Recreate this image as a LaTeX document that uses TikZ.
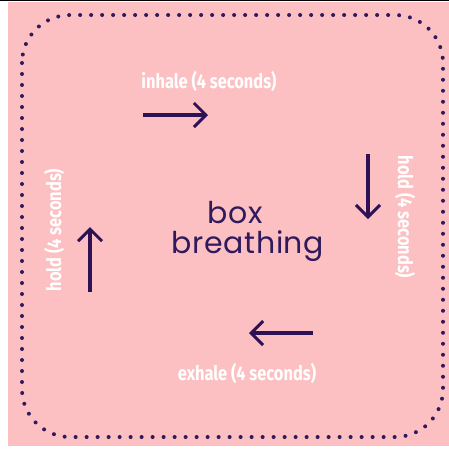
\documentclass[tikz,border=0pt]{standalone}
\usepackage{fontspec}
\setmainfont{Fira Sans}
\newfontfamily\geofont[LetterSpace=2]{Poppins}
\usetikzlibrary{arrows.meta}
\definecolor{bgpink}{HTML}{FDC0C2}
\definecolor{navy}{HTML}{2E1A5C}
\definecolor{arrowc}{HTML}{2C1155}
\tikzset{
  lbl/.style={text=white, font=\bfseries\fontsize{20}{20}\selectfont, inner sep=0pt},
  breath/.style={draw=arrowc, line width=3.2pt, -{Straight Barb[length=12pt,width=24pt,line width=3pt]}},
  ttl/.style={text=navy, font=\geofont\fontsize{30}{30}\selectfont, inner sep=0pt, anchor=base},
}
\begin{document}
\begin{tikzpicture}[x=1pt,y=-1pt]
\useasboundingbox (0,0) rectangle (449,448);
\fill[white] (0,0) rectangle (449,448);
\fill[bgpink] (8,2) rectangle (449,446);
\draw[black, line width=1pt] (0,0.5) -- (449,0.5);
\draw[navy, line width=4pt, line cap=round, dash pattern=on 0pt off 11pt, rounded corners=48pt] (22,15) rectangle (443,437);
\node[lbl] (inhale) at (209,81) {\scalebox{0.82}[1]{inhale (4 seconds)}};
\node[lbl] (exhale) at (247,373) {\scalebox{0.82}[1]{exhale (4 seconds)}};
\node[lbl, rotate=-90] (holdr) at (405,217) {\scalebox{0.82}[1]{hold (4 seconds)}};
\node[lbl, rotate=90] (holdl) at (54,230) {\scalebox{0.82}[1]{hold (4 seconds)}};
\coordinate (a1) at (143,115); \coordinate (a2) at (208,115);
\coordinate (b1) at (368,154); \coordinate (b2) at (368,219);
\coordinate (c1) at (313,333); \coordinate (c2) at (249,333);
\coordinate (d1) at (90,292); \coordinate (d2) at (90,227);
\draw[breath] (a1) -- (a2);
\draw[breath] (b1) -- (b2);
\draw[breath] (c1) -- (c2);
\draw[breath] (d1) -- (d2);
\node[ttl] (box) at (235,223) {box};
\node[ttl] (breathing) at (248,253) {breathing};
\end{tikzpicture}
\end{document}
